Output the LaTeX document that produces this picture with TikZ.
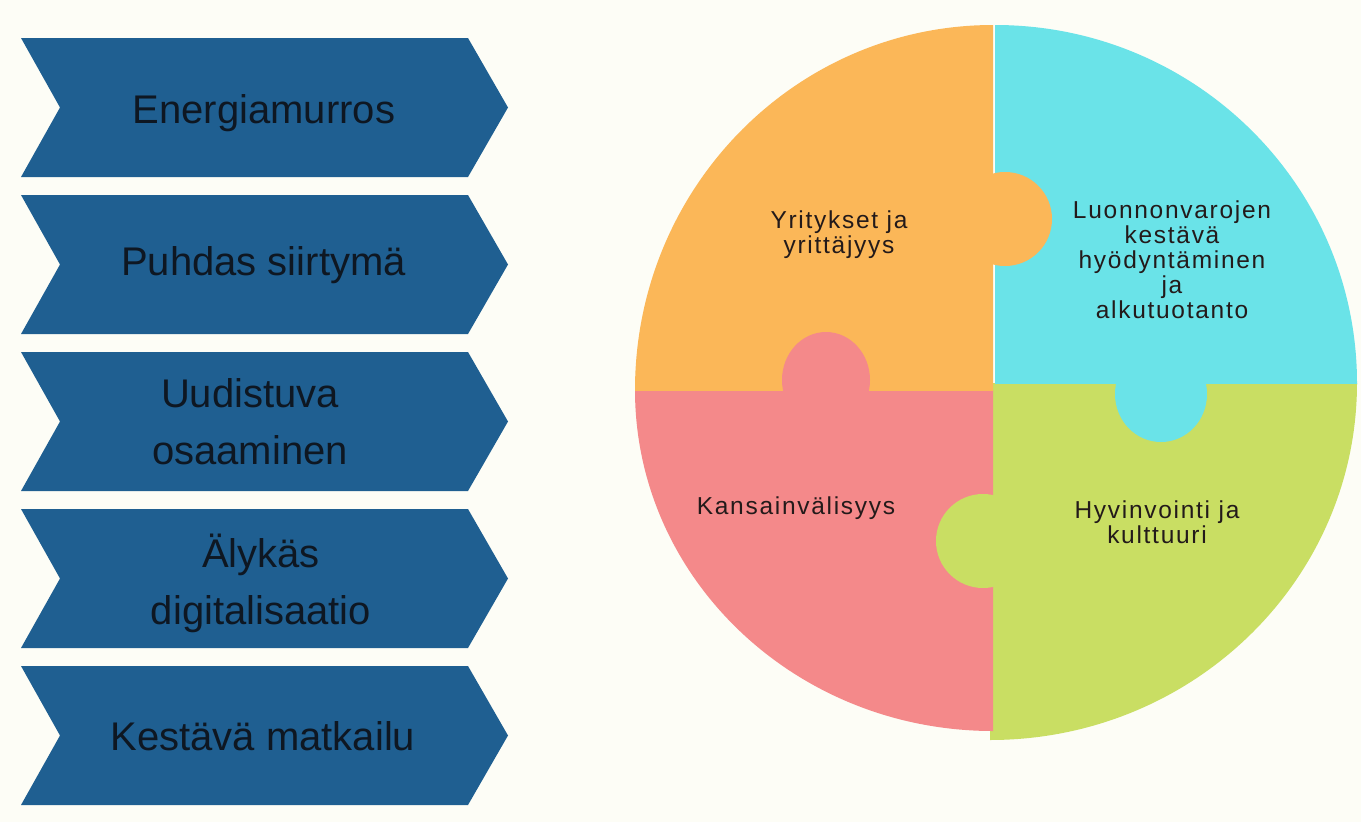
\documentclass[tikz,border=0pt]{standalone}
\usepackage{fontspec}
\setmainfont{Liberation Sans}
\newfontfamily\puzfont[LetterSpace=7]{Liberation Sans}
\definecolor{bgc}{HTML}{FDFDF6}
\definecolor{chevblue}{HTML}{1F5F91}
\definecolor{chevtxt}{HTML}{0E1722}
\definecolor{puztxt}{HTML}{231A1A}
\definecolor{orangec}{HTML}{FBB758}
\definecolor{cyanc}{HTML}{6AE3E8}
\definecolor{pinkc}{HTML}{F4898A}
\definecolor{greenc}{HTML}{C9DE63}
\tikzset{
  chevshape/.style={fill=chevblue},
  chevtext/.style={font=\fontsize{40}{57}\selectfont, text=chevtxt, align=center, inner sep=0pt},
  puztext/.style={font=\puzfont\fontsize{24.5}{25}\selectfont, text=puztxt, align=center, inner sep=0pt}
}
\newcommand\chevronat[1]{%
  \fill[chevshape] (21,#1) -- (468,#1) -- (508,{#1+69.5}) -- (468,{#1+139}) -- (21,{#1+139}) -- (60,{#1+69.5}) -- cycle;}
\begin{document}
\begin{tikzpicture}[x=1pt,y=-1pt]
\fill[bgc] (0,0) rectangle (1361,822);
\useasboundingbox (0,0) rectangle (1361,822);
% chevrons
\chevronat{38}
\chevronat{195}
\chevronat{352}
\chevronat{509}
\chevronat{666}
\node[chevtext] (c1) at (264,113.5) {Energiamurros};
\node[chevtext] (c2) at (263.5,265) {Puhdas siirtymä};
\node[chevtext] (c3) at (250,421.5) {Uudistuva\\osaaminen};
\node[chevtext] (c4) at (261,583) {Älykäs\\digitalisaatio};
\node[chevtext] (c5) at (263,736) {Kestävä matkailu};
% puzzle quarters
\begin{scope}
  \clip (990,383) rectangle (1400,800);
  \fill[greenc] (990,383) ellipse [x radius=367pt, y radius=357pt];
\end{scope}
\begin{scope}
  \clip (995,0) rectangle (1400,383);
  \fill[cyanc] (995,383) ellipse [x radius=362pt, y radius=358pt];
\end{scope}
\begin{scope}
  \clip (600,390) rectangle (993,800);
  \fill[pinkc] (993,390) ellipse [x radius=358pt, y radius=341pt];
\end{scope}
\begin{scope}
  \clip (600,0) rectangle (993,390);
  \fill[orangec] (993,390) ellipse [x radius=358pt, y radius=365pt];
\end{scope}
% knobs
\fill[orangec] (1005,219) circle [radius=47pt];
\fill[pinkc] (826,380) ellipse [x radius=44pt, y radius=48pt];
\fill[cyanc] (1161,394) ellipse [x radius=46pt, y radius=48pt];
\fill[greenc] (983,541) circle [radius=47pt];
% puzzle labels
\node[puztext] (p1) at (839,235) {Yritykset ja\\yrittäjyys};
\node[puztext] (p2) at (1172,260) {Luonnonvarojen\\kestävä\\hyödyntäminen\\ja\\alkutuotanto};
\node[puztext] (p3) at (796,508) {Kansainvälisyys};
\node[puztext] (p4) at (1157,522) {Hyvinvointi ja\\kulttuuri};
\end{tikzpicture}
\end{document}
